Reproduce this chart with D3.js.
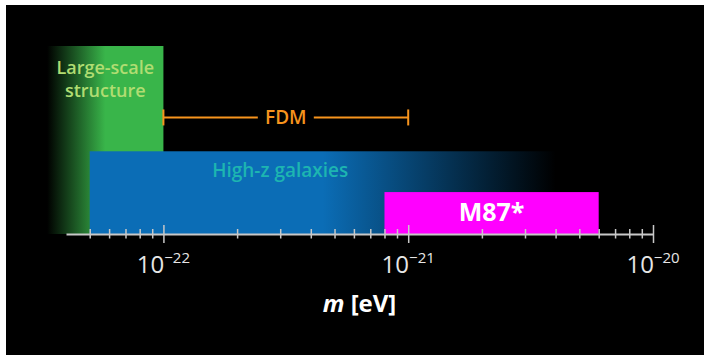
<!DOCTYPE html>
<html lang="en">
<head>
    <meta charset="UTF-8">
    <title>Fuzzy dark matter mass constraints</title>
    <script src="https://d3js.org/d3.v7.min.js"></script>
    <style>
        html, body { margin: 0; padding: 0; background: #fff; }
        svg { display: block; }
        text { font-family: "Open Sans", "Noto Sans", sans-serif; }
    </style>
</head>
<body>
    <svg></svg>
    <script>
        // Constraint bands: mass ranges in eV and relative height of each band
        const bandNames  = ["Large-scale structure", "High-z galaxies", "M87*"];
        const bandLow    = [3.35e-23, 5e-23, 8e-22];
        const bandHigh   = [1e-22, 4e-21, 6e-21];
        const bandLevel  = [1.0, 0.44, 0.223];
        // FDM range bar
        const fdmRange   = [1e-22, 1e-21];
        const fdmLevel   = 0.62;
        // Axis
        const axisDomain = [4e-23, 1e-20];
        const majorTicks = [1e-22, 1e-21, 1e-20];
        const minorTicks = [5e-23, 6e-23, 7e-23, 8e-23, 9e-23,
                            2e-22, 3e-22, 4e-22, 5e-22, 6e-22, 7e-22, 8e-22, 9e-22,
                            2e-21, 3e-21, 4e-21, 5e-21, 6e-21, 7e-21, 8e-21, 9e-21];
        const majorExp   = ["−22", "−21", "−20"];

        const width = 704, height = 355;
        const svg = d3.select("svg").attr("width", width).attr("height", height);

        // black panel with a thin white margin top/left
        svg.append("rect").attr("x", 6).attr("y", 5)
            .attr("width", width - 6).attr("height", height - 5).attr("fill", "#000");

        const x = d3.scaleLog().domain(axisDomain).range([66, 653]);
        const y = d3.scaleLinear().domain([0, 1]).range([234, 46]);

        // gradients
        const defs = svg.append("defs");
        const gGreen = defs.append("linearGradient").attr("id", "gGreen");
        gGreen.append("stop").attr("offset", "0%").attr("stop-color", "#39b54a").attr("stop-opacity", 0);
        gGreen.append("stop").attr("offset", "50%").attr("stop-color", "#39b54a").attr("stop-opacity", 1);
        gGreen.append("stop").attr("offset", "100%").attr("stop-color", "#39b54a").attr("stop-opacity", 1);
        const gBlue = defs.append("linearGradient").attr("id", "gBlue");
        gBlue.append("stop").attr("offset", "0%").attr("stop-color", "#0b6db6").attr("stop-opacity", 1);
        gBlue.append("stop").attr("offset", "50%").attr("stop-color", "#0b6db6").attr("stop-opacity", 1);
        gBlue.append("stop").attr("offset", "100%").attr("stop-color", "#0b6db6").attr("stop-opacity", 0);

        const fills = ["url(#gGreen)", "url(#gBlue)", "#ff00ff"];

        svg.append("g").selectAll("rect")
            .data(bandNames)
            .enter().append("rect")
            .attr("x", (d, i) => x(bandLow[i]))
            .attr("width", (d, i) => x(bandHigh[i]) - x(bandLow[i]))
            .attr("y", (d, i) => y(bandLevel[i]))
            .attr("height", (d, i) => y(0) - y(bandLevel[i]))
            .attr("fill", (d, i) => fills[i]);

        // band labels
        const lssX = (x(bandLow[0]) + x(bandHigh[0])) / 2;
        ["Large-scale", "structure"].forEach((t, i) => {
            svg.append("text")
                .attr("x", lssX).attr("y", 74 + i * 23)
                .attr("text-anchor", "middle")
                .attr("fill", "#b0dd72")
                .style("font-size", "18px").style("font-weight", 600)
                .text(t);
        });

        svg.append("text")
            .attr("x", x(3e-22)).attr("y", 177)
            .attr("text-anchor", "middle")
            .attr("fill", "#1db5b1")
            .style("font-size", "19px").style("font-weight", 600)
            .text(bandNames[1]);

        svg.append("text")
            .attr("x", (x(bandLow[2]) + x(bandHigh[2])) / 2).attr("y", 221)
            .attr("text-anchor", "middle")
            .attr("fill", "#fff")
            .style("font-size", "25px").style("font-weight", 700)
            .text(bandNames[2]);

        // FDM bar
        const fdm = svg.append("g").attr("stroke", "#f7941d").attr("stroke-width", 2);
        const fy = y(fdmLevel);
        fdm.append("line").attr("x1", x(fdmRange[0])).attr("x2", x(fdmRange[1])).attr("y1", fy).attr("y2", fy);
        fdmRange.forEach(v => {
            fdm.append("line").attr("x1", x(v)).attr("x2", x(v)).attr("y1", fy - 8).attr("y2", fy + 8);
        });
        const fdmMid = Math.sqrt(fdmRange[0] * fdmRange[1]);
        svg.append("rect")
            .attr("x", x(fdmMid) - 28).attr("y", fy - 8).attr("width", 56).attr("height", 16)
            .attr("fill", "#000");
        svg.append("text")
            .attr("x", x(fdmMid)).attr("y", fy + 6.5)
            .attr("text-anchor", "middle")
            .attr("fill", "#f7941d")
            .style("font-size", "19px").style("font-weight", 600)
            .text("FDM");

        // axis
        const ax = svg.append("g")
            .attr("transform", `translate(0,${y(0)})`)
            .call(d3.axisBottom(x).tickValues(majorTicks.concat(minorTicks)).tickSizeOuter(0).tickFormat(""));
        ax.select(".domain").attr("stroke", "#c8c8c8").attr("stroke-width", 2);
        ax.selectAll(".tick line")
            .attr("stroke", "#c8c8c8").attr("stroke-width", 1.5)
            .attr("y1", d => majorTicks.includes(d) ? -9 : -5)
            .attr("y2", d => majorTicks.includes(d) ? 9 : 4.5);

        const lab = svg.append("g").selectAll("text")
            .data(majorTicks)
            .enter().append("text")
            .attr("x", d => x(d)).attr("y", 273)
            .attr("text-anchor", "middle")
            .attr("fill", "#e6e6e6")
            .style("font-size", "24px");
        lab.append("tspan").text("10");
        lab.append("tspan").attr("dy", -10).style("font-size", "15px").text((d, i) => majorExp[i]);

        const xl = svg.append("text")
            .attr("x", (x.range()[0] + x.range()[1]) / 2).attr("y", 312)
            .attr("text-anchor", "middle")
            .attr("fill", "#fff")
            .style("font-size", "24px").style("font-weight", 700);
        xl.append("tspan").style("font-style", "italic").text("m");
        xl.append("tspan").text(" [eV]");
    </script>
</body>
</html>
